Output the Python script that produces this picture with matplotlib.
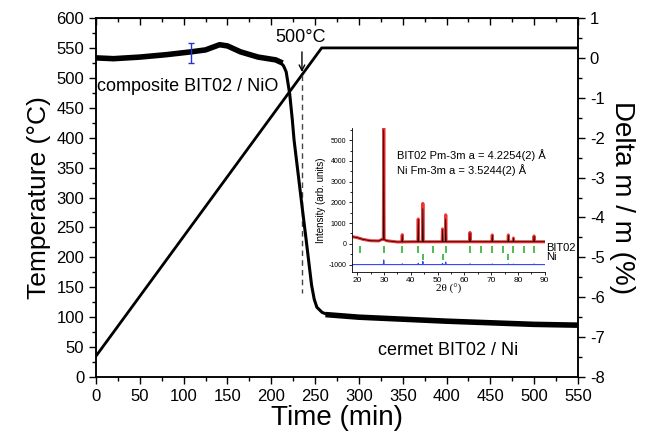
import matplotlib
matplotlib.use('Agg')
import matplotlib.pyplot as plt
from matplotlib.ticker import MultipleLocator
import numpy as np

plt.rcParams['font.family'] = ['Liberation Sans', 'DejaVu Sans']
plt.rcParams['axes.unicode_minus'] = False

# temperature program (min, degC)
temp_time = [0, 257.5, 550]
temp_val = [35, 550, 550]

# mass change (min, %)
mass_time = [0, 20, 50, 80, 108, 125, 141, 150, 165, 185, 205, 210, 214, 217, 221, 224,
             226, 235, 240, 246, 249, 252, 258, 265, 300, 350, 400, 450, 500, 550]
mass_val = [0.0, -0.02, 0.02, 0.08, 0.15, 0.2, 0.33, 0.3, 0.15, 0.02, -0.05, -0.1, -0.2,
            -0.35, -0.9, -1.55, -2.06, -3.7, -4.6, -5.7, -6.05, -6.25, -6.38, -6.44,
            -6.5, -6.55, -6.6, -6.64, -6.68, -6.7]

err_time = 108
err_val = 0.12
err_size = 0.25

# XRD inset
bg_2theta = [18, 20, 22, 25, 28, 29.5, 31, 35, 40, 50, 60, 70, 80, 90]
bg_int = [350, 300, 220, 150, 140, 230, 150, 90, 100, 100, 100, 100, 100, 100]
peak_pos = [29.9, 36.8, 42.77, 44.5, 51.84, 53.04, 62.08, 70.4, 76.4, 78.3, 86.0]
peak_obs = [5400, 350, 1100, 1850, 620, 1300, 450, 330, 330, 180, 280]
peak_calc = [5300, 320, 1080, 1600, 580, 1100, 430, 310, 310, 170, 270]
peak_diff = [220, 40, 60, 150, 60, 120, 40, 30, 30, 20, 30]

bit_ticks = [21.0, 29.9, 36.8, 42.77, 48.1, 53.04, 62.08, 66.3, 70.4, 74.4, 78.3, 82.2, 86.0]
ni_ticks = [44.49, 51.84, 76.37]


def profile(heights, base, hw=0.15):
    xs = list(bg_2theta)
    ys = list(base)
    for p, h in zip(peak_pos, heights):
        b = np.interp(p, bg_2theta, base)
        xs += [p - hw, p, p + hw]
        ys += [b, b + h, b]
    order = np.argsort(xs, kind='stable')
    return np.array(xs)[order], np.array(ys)[order]


fig = plt.figure(figsize=(6.54, 4.42), dpi=100)
ax = fig.add_axes([0.1468, 0.147, 0.737, 0.8123])
ax2 = ax.twinx()

ax.plot(temp_time, temp_val, color='black', lw=2)
ax.set_xlim(0, 550)
ax.set_ylim(0, 600)
ax.xaxis.set_major_locator(MultipleLocator(50))
ax.xaxis.set_minor_locator(MultipleLocator(25))
ax.yaxis.set_major_locator(MultipleLocator(50))
ax.yaxis.set_minor_locator(MultipleLocator(25))
ax.tick_params(which='both', direction='out', labelsize=12, width=1)
ax.tick_params(which='major', length=5)
ax.tick_params(which='minor', length=3)
ax.set_xlabel('Time (min)', fontsize=20, labelpad=1)
ax.set_ylabel('Temperature (°C)', fontsize=19, labelpad=4)

top = ax.secondary_xaxis('top')
top.xaxis.set_major_locator(MultipleLocator(50))
top.xaxis.set_minor_locator(MultipleLocator(25))
top.tick_params(which='both', direction='in', labeltop=False, width=1)
top.tick_params(which='major', length=5)
top.tick_params(which='minor', length=3)

ax2.plot(mass_time, mass_val, color='black', lw=2.2)
ax2.plot(mass_time[:12], mass_val[:12], color='black', lw=4)
ax2.plot(mass_time[23:], mass_val[23:], color='black', lw=4)
ax2.errorbar([err_time], [err_val], yerr=[err_size], color='#2233dd', lw=1, capsize=2)
ax2.set_ylim(-8, 1)
ax2.yaxis.set_major_locator(MultipleLocator(1))
ax2.yaxis.set_minor_locator(MultipleLocator(0.5))
ax2.tick_params(which='both', direction='out', labelsize=12, width=1)
ax2.tick_params(which='major', length=5)
ax2.tick_params(which='minor', length=3)
ax2.set_ylabel('Delta m / m (%)', fontsize=20, rotation=-90, labelpad=22)

for sp in list(ax.spines.values()) + list(ax2.spines.values()):
    sp.set_linewidth(1.1)

ax.plot([235, 235], [505, 140], color='#444444', lw=1, ls=(0, (4, 3)))
ax.annotate('', xy=(235, 505), xytext=(235, 548),
            arrowprops=dict(arrowstyle='->', color='black', lw=1))
ax.text(233, 567, '500°C', fontsize=13, ha='center', va='center')
ax.text(1, 485, 'composite BIT02 / NiO', fontsize=13, ha='left', va='center')
ax.text(322, 45, 'cermet BIT02 / Ni', fontsize=13, ha='left', va='center')

# inset
ins = fig.add_axes([0.538, 0.385, 0.295, 0.326])
xo, yo = profile(peak_obs, bg_int)
xc, yc = profile(peak_calc, bg_int)
xd, yd = profile(peak_diff, [-1000] * len(bg_2theta))
ins.plot(xo, yo, color='#ee1111', lw=2.2, alpha=0.85)
ins.plot(xc, yc, color='black', lw=0.5)
ins.plot(xd, yd, color='#3344ff', lw=0.8)
ins.vlines(bit_ticks, -420, -120, color='#22aa22', lw=1.1)
ins.vlines(ni_ticks, -780, -480, color='#22aa22', lw=1.1)
ins.set_xlim(18, 90)
ins.set_ylim(-1350, 5600)
ins.spines['top'].set_visible(False)
ins.spines['right'].set_visible(False)
ins.patch.set_alpha(0)
ins.xaxis.set_major_locator(MultipleLocator(10))
ins.xaxis.set_minor_locator(MultipleLocator(5))
ins.yaxis.set_major_locator(MultipleLocator(1000))
ins.yaxis.set_minor_locator(MultipleLocator(500))
ins.tick_params(which='both', direction='out', width=0.6)
ins.tick_params(which='major', length=2.5)
ins.tick_params(which='minor', length=1.5)
ins.tick_params(axis='x', labelsize=6, pad=1.5)
ins.tick_params(axis='y', labelsize=5, pad=1.5)
for sp in ins.spines.values():
    sp.set_linewidth(0.6)
ins.set_xlabel('2θ (°)', fontsize=8, labelpad=0, family=['Liberation Serif', 'DejaVu Serif'])
ins.set_ylabel('Intensity (arb. units)', fontsize=7, labelpad=2)
ins.text(35, 4280, 'BIT02 Pm-3m a = 4.2254(2) Å', fontsize=8, va='center')
ins.text(35, 3560, 'Ni Fm-3m a = 3.5244(2) Å', fontsize=8, va='center')
ins.text(90.5, -200, 'BIT02', fontsize=8, va='center', clip_on=False)
ins.text(90.5, -640, 'Ni', fontsize=8, va='center', clip_on=False)

fig.savefig('out.png', dpi=100)
